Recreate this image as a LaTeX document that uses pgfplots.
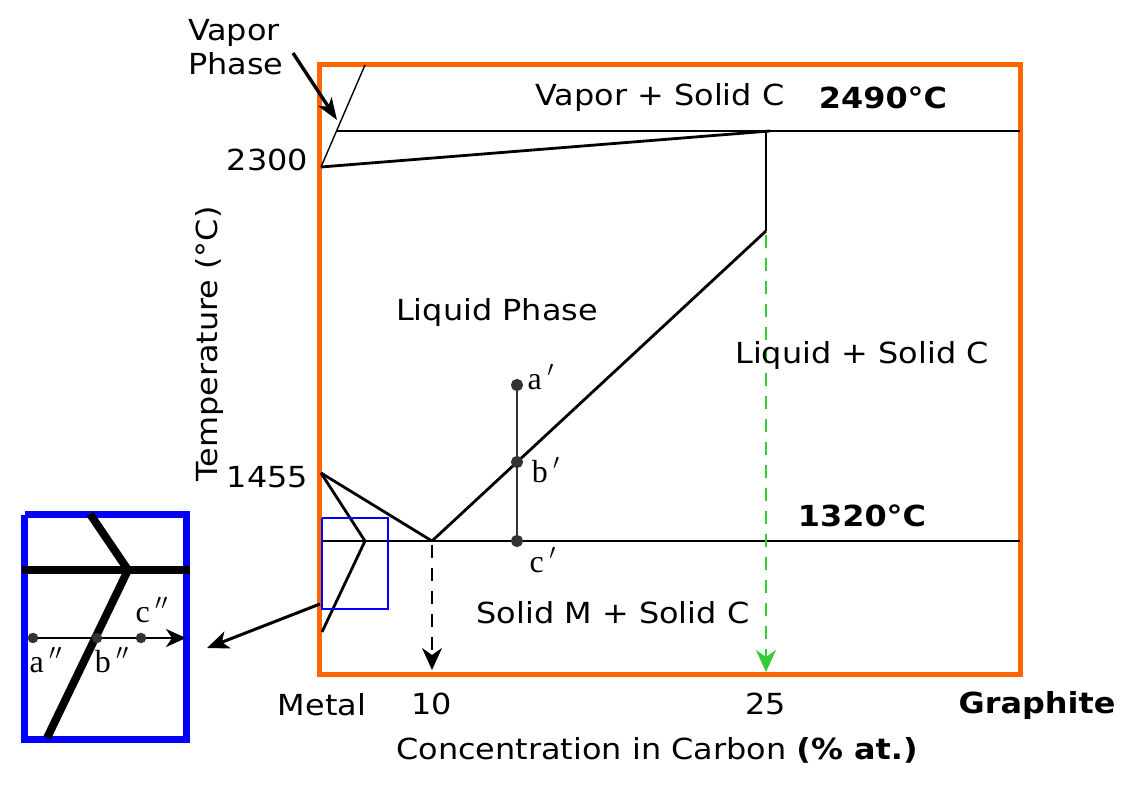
\documentclass[border=0pt]{standalone}
\usepackage{fontspec}
\setmainfont{DejaVu Sans}[FakeStretch=1.1]
\newfontfamily\serif{Liberation Serif}
\usepackage{pgfplots}
\pgfplotsset{compat=1.18}
\usetikzlibrary{arrows.meta}

\definecolor{frame}{HTML}{FF6600}
\definecolor{boxblue}{HTML}{0000FF}
\definecolor{dashgreen}{HTML}{33CC33}
\definecolor{dot}{HTML}{333333}

% 1 px of the reference = 0.5pt, y measured downwards
\begin{document}
\fontsize{14.5}{17}\selectfont
\begin{tikzpicture}[ln/.style={black, solid, mark=none, line width=1.4pt}]
\begin{axis}[
    scale only axis,
    width=350pt, height=305pt,
    xmin=320, xmax=1020, ymin=65, ymax=675,
    y dir=reverse,
    clip=false,
    axis line style={draw=frame, line width=2.5pt},
    xtick={322,432,766}, xticklabels={Metal,10,25},
    ytick={160,477}, yticklabels={2300,1455},
    major tick length=0pt,
    xticklabel style={yshift=-4pt},
    yticklabel style={xshift=-1pt},
]
% invisible frame for the picture size
\path (axis cs:0,0) rectangle (axis cs:1137,785);

% phase boundaries
\addplot[ln] coordinates {(337,131) (1020,131)};
\addplot[ln] coordinates {(321,167) (770,131)};
\addplot[ln, line width=0.7pt] coordinates {(321,167) (365,65)};
\addplot[ln] coordinates {(766,131) (766,231)};
\addplot[ln] coordinates {(766,231) (432,541)};
\addplot[ln] coordinates {(321,473) (432,541)};
\addplot[ln] coordinates {(321,541) (1020,541)};
\addplot[ln] coordinates {(321,473) (365,541) (322,632)};

% cooling path a' b' c'
\addplot[ln, color=dot, line width=1.25pt, mark=*, mark size=2.4pt] coordinates {(517,385) (517,462) (517,541)};

% dashed arrows
\addplot[ln, line width=1.3pt, dash pattern=on 6.5pt off 5pt, -{Stealth[length=11pt,width=10pt,inset=3.5pt]}]
    coordinates {(432,545) (432,670)};
\addplot[ln, dashgreen, line width=1.3pt, dash pattern=on 6.5pt off 5pt, -{Stealth[length=11pt,width=10pt,inset=3.5pt]}]
    coordinates {(766,235) (766,672)};

% zoom box and pointer arrows
\addplot[ln, boxblue, line width=1pt] coordinates {(322,518) (388,518) (388,609) (322,609) (322,518)};
\addplot[ln, line width=1.5pt, -{Stealth[length=11pt,width=9pt,inset=3pt]}] coordinates {(320,604) (207,648)};
\addplot[ln, line width=1.7pt, -{Stealth[length=11pt,width=8pt,inset=3pt]}] coordinates {(293,53) (337,120)};

% inset
\addplot[ln, boxblue, line width=3.5pt] coordinates {(25,515) (187,515) (187,740) (25,740) (25,515)};
\addplot[ln, line width=4pt] coordinates {(90,514) (128,570)};
\addplot[ln, line width=4pt] coordinates {(22,570) (190,570)};
\addplot[ln, line width=4pt] coordinates {(128,570) (47,738)};
\addplot[ln, line width=1.3pt, -{Stealth[length=10pt,width=9pt,inset=3pt]}] coordinates {(33,638) (186,638)};
\addplot[color=dot, only marks, mark=*, mark size=2.4pt] coordinates {(33,638) (97,638) (141,638)};

% text
\node[align=left, anchor=west] at (axis cs:178,47) {Vapor\\Phase};
\node at (axis cs:660,98) {Vapor + Solid C};
\node at (axis cs:883,98) {\bfseries 2490°C};
\node at (axis cs:497,313) {Liquid Phase};
\node at (axis cs:862,356) {Liquid + Solid C};
\node at (axis cs:862,516) {\bfseries 1320°C};
\node at (axis cs:613,613) {Solid M + Solid C};
\node at (axis cs:1037,706) {\bfseries Graphite};
\node at (axis cs:657,750) {Concentration in Carbon \textbf{(\% at.)}};
\node[rotate=90] at (axis cs:210,344) {Temperature (°C)};
\node[font=\serif\fontsize{16}{18}\selectfont] at (axis cs:541,377) {a\,$'$};
\node[font=\serif\fontsize{16}{18}\selectfont] at (axis cs:546,470) {b\,$'$};
\node[font=\serif\fontsize{16}{18}\selectfont] at (axis cs:543,560) {c\,$'$};
\node[font=\serif\fontsize{16}{18}\selectfont] at (axis cs:46,660) {a\,$''$};
\node[font=\serif\fontsize{16}{18}\selectfont] at (axis cs:112,660) {b\,$''$};
\node[font=\serif\fontsize{16}{18}\selectfont] at (axis cs:152,610) {c\,$''$};
\end{axis}
\end{tikzpicture}
\end{document}
